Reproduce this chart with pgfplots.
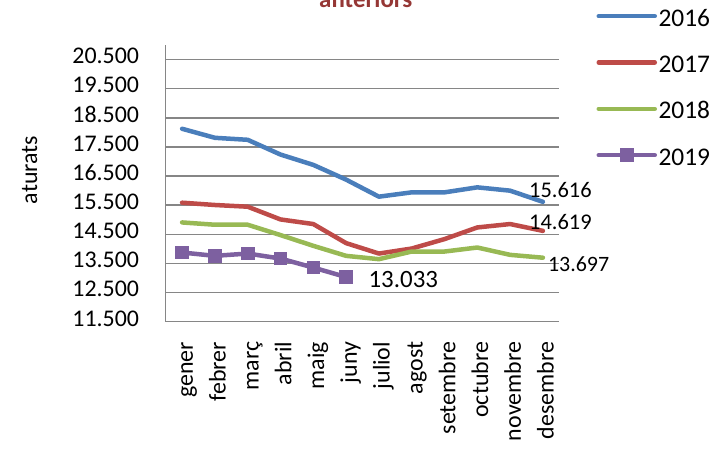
\documentclass[border=0pt]{standalone}
\usepackage{pgfplots}
\pgfplotsset{compat=1.18}
\usepackage{fontspec}
\setmainfont{Carlito}
\definecolor{c16}{HTML}{4A7EBB}
\definecolor{c17}{HTML}{BE4B48}
\definecolor{c18}{HTML}{98B954}
\definecolor{c19}{HTML}{7D60A0}
\definecolor{gridc}{HTML}{868686}
\definecolor{tit}{HTML}{953735}
\begin{document}
\begin{tikzpicture}
\begin{axis}[
  at={(165.7bp,127.3bp)}, anchor=south west,
  scale only axis, width=393.6bp, height=276.7bp,
  xmin=-0.5, xmax=11.5, ymin=11500, ymax=21000,
  scaled y ticks=false,
  xtick={0,1,2,3,4,5,6,7,8,9,10,11},
  xticklabels={gener,febrer,març,abril,maig,juny,juliol,agost,setembre,octubre,novembre,desembre},
  ytick={11500,12500,13500,14500,15500,16500,17500,18500,19500,20500},
  yticklabels={11.500,12.500,13.500,14.500,15.500,16.500,17.500,18.500,19.500,20.500},
  axis x line*=bottom, axis y line*=left,
  ymajorgrids, major grid style={gridc, line width=1.4bp},
  axis line style={gridc, line width=1.4bp},
  major tick length=0pt,
  tick label style={font=\fontsize{24}{28}\selectfont, inner sep=0pt},
  xticklabel style={rotate=90, anchor=east, text height=21.6bp, text depth=0bp},
  yticklabel style={anchor=east, text height=15.1bp, text depth=6.5bp},
  xticklabel shift=20bp,
  yticklabel shift=26.4bp,
  every axis plot/.append style={line width=4.5bp, line cap=round, line join=round},
  legend image code/.code={\draw[mark repeat=2,mark phase=2,#1] plot coordinates {(0bp,0bp) (28bp,0bp) (56bp,0bp)};},
  legend style={at={(1.094,1.141)}, anchor=north west, draw=none, fill=none,
    inner sep=0pt, row sep=26.3bp, column sep=1.5bp,
    font=\fontsize{25.5}{28}\selectfont,
    nodes={inner sep=0pt, text height=20bp, text depth=0bp}},
  clip=false,
]
\addplot[c16, no markers] coordinates {(0,18124) (1,17814) (2,17745) (3,17239) (4,16884) (5,16378) (6,15793) (7,15941) (8,15941) (9,16113) (10,15999) (11,15616)};
\addlegendentry{2016}
\addplot[c17, no markers] coordinates {(0,15586) (1,15507) (2,15448) (3,15011) (4,14853) (5,14198) (6,13840) (7,14012) (8,14336) (9,14736) (10,14853) (11,14619)};
\addlegendentry{2017}
\addplot[c18, no markers] coordinates {(0,14908) (1,14829) (2,14829) (3,14474) (4,14105) (5,13761) (6,13647) (7,13909) (8,13909) (9,14047) (10,13795) (11,13697)};
\addlegendentry{2018}
\addplot[c19, mark=square*, mark size=6.3bp, mark options={solid, line width=0pt}] coordinates {(0,13875) (1,13761) (2,13840) (3,13668) (4,13358) (5,13033)};
\addlegendentry{2019}
\node[font=\fontsize{22.5}{26}\selectfont, inner sep=0pt, text height=14.2bp, text depth=0pt, xshift=17.5bp, yshift=11.6bp] at (axis cs:11,15616) {15.616};
\node[font=\fontsize{22.5}{26}\selectfont, inner sep=0pt, text height=14.2bp, text depth=0pt, xshift=17.5bp, yshift=8.1bp] at (axis cs:11,14619) {14.619};
\node[font=\fontsize{22}{26}\selectfont, inner sep=0pt, text height=13.9bp, text depth=0pt, xshift=35.7bp, yshift=-6.8bp] at (axis cs:11,13697) {13.697};
\node[font=\fontsize{25}{28}\selectfont, inner sep=0pt, text height=15.75bp, text depth=0pt, xshift=57.2bp, yshift=-2.4bp] at (axis cs:5,13033) {13.033};
\end{axis}
\node[font=\fontsize{24}{28}\selectfont, rotate=90, inner sep=0pt, text height=18bp, text depth=6bp] at (31bp,279bp) {aturats};
\node[font=\bfseries\fontsize{25}{28}\selectfont, text=tit, anchor=base, inner sep=0pt] at (365.8bp,441.7bp) {anteriors};
\pgfresetboundingbox
\useasboundingbox (0,0) rectangle (728bp,449bp);
\end{tikzpicture}
\end{document}
